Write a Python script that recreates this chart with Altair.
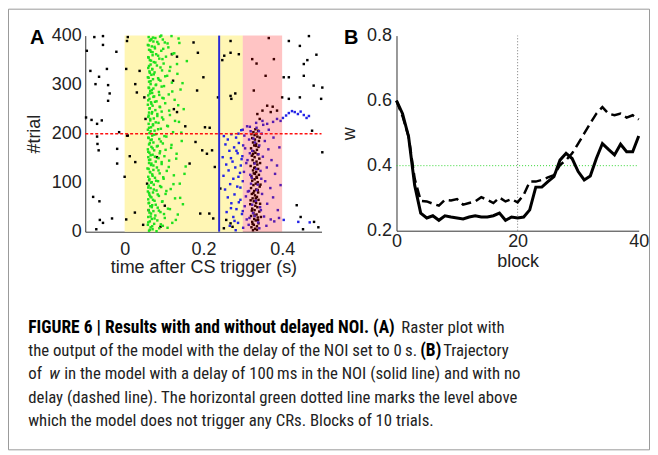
import altair as alt
import pandas as pd

# ---------------- Panel B data (trajectory of w) ----------------
BLOCKS = list(range(41))
W_DELAY = [0.600, 0.560, 0.489, 0.340, 0.254, 0.239, 0.246, 0.232, 0.246, 0.242,
           0.239, 0.236, 0.242, 0.246, 0.242, 0.242, 0.246, 0.254, 0.232, 0.242,
           0.239, 0.242, 0.264, 0.334, 0.334, 0.351, 0.366, 0.417, 0.438, 0.422,
           0.382, 0.356, 0.368, 0.422, 0.468, 0.450, 0.433, 0.466, 0.443, 0.443, 0.491]
W_NODELAY = [0.600, 0.552, 0.490, 0.360, 0.292, 0.290, 0.283, 0.277, 0.295, 0.293,
             0.297, 0.280, 0.285, 0.290, 0.303, 0.295, 0.285, 0.302, 0.290, 0.297,
             0.287, 0.310, 0.351, 0.351, 0.356, 0.364, 0.371, 0.402, 0.417, 0.438,
             0.468, 0.499, 0.530, 0.560, 0.580, 0.560, 0.555, 0.560, 0.548, 0.555, 0.542]

# ---------------- Panel A data (raster: (time s, trial)) ----------------
BLACK = [(-0.096, 369), (-0.077, 397), (-0.055, 399), (-0.055, 381), (-0.087, 328), (-0.074, 301),
         (-0.065, 316), (-0.045, 332), (-0.021, 367), (-0.042, 299), (-0.038, 282), (-0.042, 267),
         (-0.098, 233), (-0.084, 228), (-0.070, 220), (-0.058, 227), (-0.069, 179), (-0.066, 166),
         (-0.014, 203), (0.006, 196), (-0.019, 169), (-0.019, 139), (0.000, 112), (-0.080, 71),
         (-0.064, 62), (-0.063, 24), (-0.055, 18), (-0.032, 27), (-0.072, 5), (-0.070, 194),
         (0.008, 397), (0.006, 389), (0.004, 332), (0.027, 301), (0.038, 328), (0.050, 274),
         (0.053, 230), (0.031, 284), (0.008, 196), (0.013, 154), (0.027, 142), (0.057, 98),
         (0.026, 39), (0.061, 44), (0.047, 14), (0.004, 25), (0.091, 10), (0.102, 53),
         (0.082, 152), (0.120, 362), (0.133, 357), (0.123, 308), (0.125, 250), (0.133, 244),
         (0.175, 386), (0.186, 365), (0.184, 288), (0.200, 315), (0.154, 215), (0.204, 213),
         (0.216, 212), (0.197, 166), (0.209, 159), (0.222, 166), (0.180, 183), (0.165, 139),
         (0.192, 37), (0.215, 37), (0.225, 27), (0.229, 132), (0.237, 274), (0.243, 88),
         (0.252, 7), (0.269, 389), (0.248, 350), (0.253, 359), (0.269, 365), (0.290, 362),
         (0.269, 277), (0.281, 282), (0.271, 271), (0.258, 24), (0.269, 17), (0.274, 10),
         (0.324, 352), (0.335, 343), (0.366, 395), (0.328, 288), (0.358, 318), (0.379, 352),
         (0.362, 257), (0.376, 255), (0.371, 244), (0.350, 247), (0.337, 240), (0.343, 230),
         (0.387, 247), (0.404, 315), (0.417, 315), (0.400, 274), (0.417, 271), (0.445, 379),
         (0.468, 399), (0.487, 361), (0.464, 350), (0.455, 342), (0.455, 318), (0.480, 298),
         (0.502, 294), (0.499, 271), (0.445, 274), (0.476, 206), (0.502, 162), (0.437, 54),
         (0.447, 30), (0.453, 5), (0.481, 20), (0.492, 9), (0.417, 389),
         (0.326, 3), (0.331, 6), (0.322, 9), (0.336, 11), (0.328, 14), (0.340, 17), (0.324, 20),
         (0.333, 23), (0.329, 26), (0.338, 29), (0.321, 32), (0.335, 35), (0.327, 38), (0.342, 41),
         (0.330, 44), (0.324, 47), (0.337, 50), (0.332, 53), (0.319, 56), (0.334, 59), (0.328, 62),
         (0.340, 65), (0.325, 68), (0.336, 71), (0.331, 74), (0.323, 77), (0.339, 80), (0.329, 83),
         (0.334, 86), (0.321, 89), (0.343, 92), (0.327, 95), (0.333, 98), (0.338, 101), (0.324, 104),
         (0.330, 107), (0.336, 110), (0.322, 113), (0.341, 116), (0.328, 119), (0.334, 122),
         (0.326, 125), (0.339, 128), (0.331, 131), (0.320, 134), (0.337, 137), (0.329, 140),
         (0.335, 143), (0.325, 146), (0.342, 149), (0.330, 152), (0.323, 155), (0.338, 158),
         (0.332, 161), (0.327, 164), (0.336, 167), (0.321, 170), (0.340, 173), (0.329, 176),
         (0.334, 179), (0.326, 182), (0.341, 185), (0.331, 188), (0.324, 191), (0.337, 194),
         (0.330, 197), (0.335, 200), (0.327, 203), (0.339, 206), (0.332, 209), (0.336, 4),
         (0.325, 16), (0.339, 24), (0.330, 33), (0.323, 43), (0.344, 57), (0.333, 68), (0.327, 79),
         (0.345, 96), (0.335, 112), (0.329, 130), (0.344, 140), (0.326, 158), (0.333, 175),
         (0.343, 192), (0.322, 199), (0.331, 118), (0.338, 85), (0.320, 64), (0.346, 30)]

GREEN = [(0.062, 2), (0.071, 5), (0.088, 7), (0.066, 9), (0.097, 12), (0.059, 14), (0.075, 16), (0.121, 18),
         (0.064, 21), (0.083, 23), (0.069, 26), (0.102, 28), (0.060, 30), (0.078, 33), (0.135, 35), (0.067, 37),
         (0.091, 40), (0.073, 42), (0.061, 44), (0.110, 47), (0.084, 49), (0.065, 52), (0.070, 54), (0.148, 56),
         (0.062, 59), (0.095, 61), (0.076, 63), (0.060, 66), (0.128, 68), (0.068, 70), (0.087, 73), (0.063, 75),
         (0.104, 77), (0.072, 80), (0.059, 82), (0.081, 84), (0.117, 87), (0.066, 89), (0.093, 91), (0.061, 94),
         (0.074, 96), (0.140, 98), (0.069, 101), (0.085, 103), (0.062, 105), (0.099, 108), (0.077, 110),
         (0.060, 112), (0.125, 115), (0.070, 117), (0.089, 119), (0.064, 122), (0.107, 124), (0.073, 126),
         (0.058, 129), (0.082, 131), (0.155, 133), (0.067, 136), (0.094, 138), (0.062, 140), (0.079, 143),
         (0.113, 145), (0.065, 147), (0.086, 150), (0.060, 152), (0.101, 154), (0.071, 157), (0.132, 159),
         (0.063, 161), (0.090, 164), (0.075, 166), (0.059, 168), (0.118, 171), (0.068, 173), (0.084, 175),
         (0.062, 178), (0.097, 180), (0.073, 182), (0.145, 185), (0.066, 187), (0.088, 189), (0.060, 192),
         (0.106, 194), (0.070, 196), (0.080, 199), (0.063, 201), (0.123, 203), (0.076, 206), (0.059, 208),
         (0.092, 210), (0.067, 213), (0.110, 215), (0.072, 217), (0.061, 220), (0.086, 222), (0.138, 224),
         (0.065, 227), (0.098, 229), (0.074, 231), (0.060, 234), (0.083, 236), (0.115, 238), (0.069, 241),
         (0.062, 243), (0.094, 245), (0.078, 248), (0.150, 250), (0.064, 252), (0.089, 255), (0.071, 257),
         (0.059, 259), (0.103, 262), (0.067, 264), (0.081, 266), (0.127, 269), (0.063, 271), (0.096, 273),
         (0.075, 276), (0.060, 278), (0.112, 280), (0.070, 283), (0.087, 285), (0.065, 287), (0.142, 290),
         (0.073, 292), (0.061, 294), (0.100, 297), (0.079, 299), (0.066, 301), (0.120, 304), (0.062, 306),
         (0.091, 308), (0.072, 311), (0.085, 313), (0.059, 315), (0.108, 318), (0.068, 320), (0.134, 322),
         (0.076, 325), (0.063, 327), (0.095, 329), (0.070, 332), (0.060, 334), (0.116, 336), (0.082, 339),
         (0.066, 341), (0.099, 343), (0.074, 346), (0.158, 348), (0.064, 350), (0.088, 353), (0.061, 355),
         (0.105, 357), (0.071, 360), (0.080, 362), (0.126, 364), (0.067, 367), (0.093, 369), (0.062, 371),
         (0.077, 374), (0.111, 376), (0.069, 378), (0.059, 381), (0.086, 383), (0.139, 385), (0.073, 388),
         (0.064, 390), (0.097, 392), (0.078, 395), (0.061, 397), (0.119, 399), (0.090, 398), (0.068, 393),
         (0.102, 386),
         (0.081, 1), (0.064, 4), (0.109, 8), (0.070, 11), (0.092, 15), (0.060, 19), (0.130, 24), (0.076, 27),
         (0.066, 31), (0.100, 36), (0.063, 39), (0.087, 43), (0.115, 46), (0.069, 50), (0.079, 55), (0.061, 58),
         (0.096, 62), (0.072, 65), (0.141, 69), (0.065, 72), (0.084, 76), (0.062, 79), (0.106, 83), (0.074, 86),
         (0.060, 90), (0.090, 93), (0.124, 97), (0.067, 100), (0.080, 104), (0.063, 107), (0.098, 111),
         (0.071, 114), (0.152, 118), (0.065, 121), (0.086, 125), (0.061, 128), (0.112, 132), (0.073, 135),
         (0.068, 139), (0.094, 142), (0.062, 146), (0.131, 149), (0.077, 153), (0.066, 156), (0.089, 160),
         (0.060, 163), (0.104, 167), (0.071, 170), (0.082, 174), (0.119, 177), (0.064, 181), (0.092, 184),
         (0.069, 188), (0.061, 191), (0.101, 195), (0.075, 198), (0.144, 202), (0.066, 205), (0.085, 209),
         (0.062, 212), (0.108, 216), (0.072, 219), (0.079, 223), (0.128, 226), (0.065, 230), (0.095, 233),
         (0.061, 237), (0.083, 240), (0.070, 244), (0.113, 247), (0.063, 251), (0.090, 254), (0.136, 258),
         (0.068, 261), (0.077, 265), (0.060, 268), (0.099, 272), (0.073, 275), (0.088, 279), (0.064, 282),
         (0.121, 286), (0.069, 289), (0.062, 293), (0.094, 296), (0.080, 300), (0.147, 303), (0.066, 307),
         (0.087, 310), (0.061, 314), (0.103, 317), (0.074, 321), (0.064, 324), (0.114, 328), (0.070, 331),
         (0.091, 335), (0.062, 338), (0.133, 342), (0.078, 345), (0.067, 349), (0.096, 352), (0.060, 356),
         (0.085, 359), (0.122, 363), (0.071, 366), (0.065, 370), (0.098, 373), (0.076, 377), (0.061, 380),
         (0.109, 384), (0.083, 387), (0.066, 391), (0.137, 394), (0.072, 396), (0.093, 400)]

BLUE = [(0.252, 195), (0.262, 188), (0.271, 199), (0.283, 192), (0.256, 178), (0.278, 172), (0.290, 181),
        (0.301, 176), (0.266, 165), (0.287, 160), (0.249, 152), (0.297, 148), (0.274, 143), (0.258, 137),
        (0.309, 140), (0.281, 131), (0.264, 125), (0.293, 120), (0.251, 114), (0.276, 108), (0.300, 103),
        (0.268, 97), (0.286, 92), (0.255, 86), (0.313, 82), (0.279, 76), (0.262, 70), (0.294, 65),
        (0.271, 58), (0.305, 52), (0.284, 46), (0.259, 40), (0.298, 36), (0.276, 30), (0.310, 25),
        (0.288, 18), (0.267, 12), (0.301, 8), (0.282, 3), (0.315, 14), (0.320, 205), (0.335, 212),
        (0.348, 200), (0.327, 190), (0.356, 185), (0.342, 176), (0.365, 168), (0.318, 160), (0.351, 153),
        (0.373, 146), (0.330, 139), (0.361, 131), (0.345, 124), (0.382, 118), (0.323, 110), (0.357, 103),
        (0.338, 96), (0.370, 89), (0.316, 83), (0.349, 77), (0.377, 70), (0.333, 63), (0.362, 57),
        (0.344, 50), (0.389, 44), (0.326, 38), (0.354, 31), (0.371, 25), (0.339, 19), (0.360, 12),
        (0.380, 21), (0.392, 28), (0.396, 95), (0.387, 135), (0.393, 172), (0.378, 192), (0.366, 208),
        (0.352, 218), (0.311, 215), (0.296, 207), (0.289, 200), (0.304, 196), (0.316, 188), (0.331, 182),
        (0.306, 170), (0.324, 165), (0.340, 158), (0.299, 154), (0.312, 146), (0.334, 128), (0.303, 122),
        (0.319, 116), (0.289, 112), (0.347, 108), (0.321, 98), (0.294, 90), (0.336, 85), (0.308, 72),
        (0.290, 60), (0.324, 55), (0.346, 44), (0.300, 42), (0.270, 48), (0.330, 32), (0.317, 28),
        (0.279, 22), (0.342, 7), (0.295, 135), (0.270, 150), (0.284, 165),
        (0.300, 208), (0.318, 214), (0.334, 222), (0.350, 226), (0.362, 220), (0.377, 224), (0.387, 230),
        (0.341, 205), (0.396, 226), (0.402, 232), (0.410, 237), (0.417, 242), (0.425, 246), (0.432, 244),
        (0.440, 240), (0.447, 245), (0.455, 238), (0.462, 232), (0.468, 236), (0.404, 24), (0.441, 20),
        (0.470, 19)]

CAPTION_L1_BOLD = "FIGURE 6 | Results with and without delayed NOI. (A)"
CAPTION_L1_REST = "Raster plot with"
CAPTION_L2_A = "the output of the model with the delay of the NOI set to 0\u2009s."
CAPTION_L2_BOLD = "(B)"
CAPTION_L2_REST = "Trajectory"
CAPTION_L3_A = "of"
CAPTION_L3_IT = "w"
CAPTION_L3_REST = "in the model with a delay of 100\u2009ms in the NOI (solid line) and with no"
CAPTION_L4 = "delay (dashed line). The horizontal green dotted line marks the level above"
CAPTION_L5 = "which the model does not trigger any CRs. Blocks of 10 trials."

# ---------------- styling ----------------
W, H = 644, 443
FONT = "Liberation Sans, Arial, sans-serif"
CAP_FONT = "Liberation Sans Narrow, Roboto Condensed, Roboto, sans-serif"
ONE = alt.Data(values=[{"k": 0}])


def axis(orient, offset, values, title, fmt, label_pad, title_pad):
    return alt.Axis(orient=orient, offset=offset, values=values, title=title, format=fmt,
                    grid=False, ticks=False, labelFlush=False, labelPadding=label_pad,
                    titlePadding=title_pad, labelFont=FONT, titleFont=FONT,
                    labelFontSize=18, titleFontSize=18, titleFontWeight="normal",
                    labelColor="#222", titleColor="#222", domainColor="#333", domainWidth=1)


# Panel A scales / axes
SX_A = alt.Scale(domain=[-0.1, 0.5], range=[77.5, 314.5], nice=False, zero=False)
SY_A = alt.Scale(domain=[0, 400], range=[223.7, 27], nice=False, zero=False)
AX_AX = axis("bottom", 223.7 - H, [0, 0.2, 0.4], "time after CS trigger (s)", ".1~f", 9, 0)
AX_AY = axis("left", -77.5, [0, 100, 200, 300, 400], "#trial", "d", 4, 8)


def xa(f):
    return alt.X(f, type="quantitative", scale=SX_A, axis=AX_AX)


def ya(f):
    return alt.Y(f, type="quantitative", scale=SY_A, axis=AX_AY)


def pts(pairs):
    return pd.DataFrame({"t": [p[0] for p in pairs], "trial": [p[1] for p in pairs]})


spans = pd.DataFrame({"t0": [0.0], "t1": [0.3], "y0": [0], "y1": [400]})
pink = pd.DataFrame({"t0": [0.3], "t1": [0.4], "y0": [0], "y1": [400]})
vline = pd.DataFrame({"t": [0.24], "y0": [0], "y1": [400]})
hline = pd.DataFrame({"t0": [-0.1], "t1": [0.5], "trial": [200]})

yellow_l = alt.Chart(spans).mark_rect(color="#fff6b4").encode(
    x=xa("t0"), x2="t1", y=ya("y0"), y2="y1")
black_l = alt.Chart(pts(BLACK)).mark_square(size=6, color="#000", opacity=1).encode(x=xa("t"), y=ya("trial"))
green_l = alt.Chart(pts(GREEN)).mark_square(size=6, color="#1fe01f", opacity=1).encode(x=xa("t"), y=ya("trial"))
blue_l = alt.Chart(pts(BLUE)).mark_square(size=6, color="#2424e6", opacity=1).encode(x=xa("t"), y=ya("trial"))
pink_l = alt.Chart(pink).mark_rect(color="#ff0000", opacity=0.23).encode(
    x=xa("t0"), x2="t1", y=ya("y0"), y2="y1")
vline_l = alt.Chart(vline).mark_rule(color="#2a2ad8", strokeWidth=2).encode(x=xa("t"), y=ya("y0"), y2="y1")
hline_l = alt.Chart(hline).mark_rule(color="#ff1010", strokeWidth=1.5, strokeDash=[3, 2]).encode(
    x=xa("t0"), x2="t1", y=ya("trial"))

panel_a = alt.layer(yellow_l, black_l, green_l, blue_l, pink_l, vline_l, hline_l)

# Panel B scales / axes
SX_B = alt.Scale(domain=[0, 40], range=[389.7, 632.7], nice=False, zero=False)
SY_B = alt.Scale(domain=[0.2, 0.8], range=[222.7, 27], nice=False, zero=False)
AX_BX = axis("bottom", 222.7 - H, [0, 20, 40], "block", "d", 2, 2)
AX_BY = axis("left", -389.7, [0.2, 0.4, 0.6, 0.8], "w", ".1f", 5, 8)


def xb(f):
    return alt.X(f, type="quantitative", scale=SX_B, axis=AX_BX)


def yb(f):
    return alt.Y(f, type="quantitative", scale=SY_B, axis=AX_BY)


traj = pd.DataFrame({"block": BLOCKS, "w_delay": W_DELAY, "w_nodelay": W_NODELAY})
vdot = pd.DataFrame({"block": [20], "w0": [0.2], "w1": [0.8]})
gdot = pd.DataFrame({"b0": [0], "b1": [40], "w": [0.4]})

vdot_l = alt.Chart(vdot).mark_rule(color="#777", strokeWidth=1, strokeDash=[1, 2]).encode(
    x=xb("block"), y=yb("w0"), y2="w1")
gdot_l = alt.Chart(gdot).mark_rule(color="#33d633", strokeWidth=1, strokeDash=[1, 2]).encode(
    x=xb("b0"), x2="b1", y=yb("w"))
dash_l = alt.Chart(traj).mark_line(color="#000", strokeWidth=2.5, strokeDash=[10, 5]).encode(
    x=xb("block"), y=yb("w_nodelay"))
solid_l = alt.Chart(traj).mark_line(color="#000", strokeWidth=3).encode(
    x=xb("block"), y=yb("w_delay"))

panel_b = alt.layer(vdot_l, gdot_l, dash_l, solid_l)


def txt(s, x, y, size, font, weight="normal", style="normal", color="#222", align="left"):
    return alt.Chart(ONE).mark_text(text=s, align=align, baseline="alphabetic", font=font,
                                    fontSize=size, fontWeight=weight, fontStyle=style,
                                    color=color).encode(x=alt.value(x), y=alt.value(y))


border = alt.Chart(ONE).mark_rect(fillOpacity=0, stroke="#9a9a9a", strokeWidth=1).encode(
    x=alt.value(0.5), x2=alt.value(W - 0.5), y=alt.value(0.5), y2=alt.value(H - 0.5))

L1, DL, CX = 325.3, 23.3, 20.3
CS, CB = 16.8, 17.5   # caption normal / bold sizes
texts = [
    txt("A", 22, 35.5, 20, FONT, "bold", color="#000"),
    txt("B", 337, 35.5, 20, FONT, "bold", color="#000"),
    # line 1
    txt(CAPTION_L1_BOLD, CX, L1, CB, CAP_FONT, "bold", color="#000"),
    txt(CAPTION_L1_REST, 394.5, L1, CS, CAP_FONT),
    # line 2
    txt(CAPTION_L2_A, CX, L1 + DL, CS, CAP_FONT),
    txt(CAPTION_L2_BOLD, 413.5, L1 + DL, CB, CAP_FONT, "bold", color="#000"),
    txt(CAPTION_L2_REST, 436.5, L1 + DL, CS, CAP_FONT),
    # line 3
    txt(CAPTION_L3_A, CX, L1 + 2 * DL, CS, CAP_FONT),
    txt(CAPTION_L3_IT, 41.5, L1 + 2 * DL, CS, CAP_FONT, style="italic"),
    txt(CAPTION_L3_REST, 56.3, L1 + 2 * DL, CS, CAP_FONT),
    # line 4 / 5
    txt(CAPTION_L4, CX, L1 + 3 * DL, CS, CAP_FONT),
    txt(CAPTION_L5, CX, L1 + 4 * DL, CS, CAP_FONT),
]

chart = alt.layer(border, panel_a, panel_b, *texts).resolve_scale(
    x="independent", y="independent"
).properties(
    width=W, height=H, autosize=alt.AutoSizeParams(type="none"), padding=0, background="white"
).configure_view(strokeWidth=0)

chart.save("out.html", embed_options={"renderer": "svg", "actions": False})
